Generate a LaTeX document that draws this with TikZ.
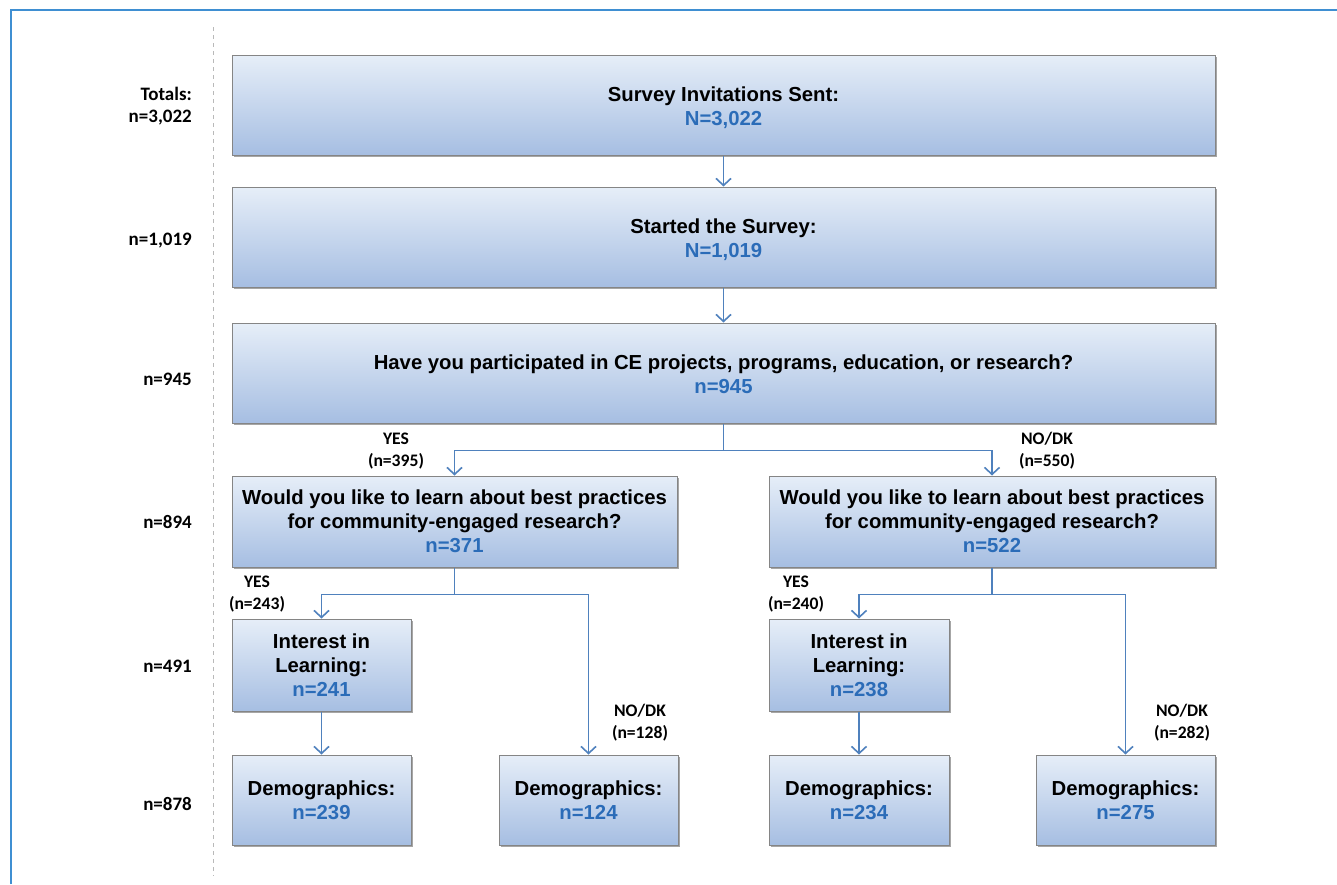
\documentclass[tikz,border=0pt]{standalone}
\usepackage{fontspec}
\setmainfont{Liberation Sans}
\newfontfamily\calfont{Carlito}
\usetikzlibrary{arrows.meta,shadows,calc}

\definecolor{boxtop}{HTML}{E6EEF8}
\definecolor{boxbot}{HTML}{A6BEE2}
\definecolor{boxedge}{HTML}{858585}
\definecolor{numblue}{HTML}{2B6CB8}
\definecolor{linkblue}{HTML}{4F81BD}
\definecolor{framblue}{HTML}{3F8FD2}

\tikzset{
  flowbox/.style={draw=boxedge, line width=1pt, top color=boxtop, bottom color=boxbot,
    align=center, inner sep=0pt, font=\bfseries\fontsize{20.3}{24}\selectfont,
    drop shadow={shadow xshift=1.5pt, shadow yshift=-1.5pt, opacity=0.35, fill=black}},
  sidelabel/.style={anchor=east, align=right, inner sep=0pt,
    font=\calfont\bfseries\fontsize{19}{22}\selectfont},
  branchlabel/.style={align=center, inner sep=0pt,
    font=\calfont\bfseries\fontsize{17.6}{22}\selectfont},
  link/.style={draw=linkblue, line width=1.5pt,
    -{Straight Barb[length=7pt,width=15pt,line width=1.6pt]}},
  linkplain/.style={draw=linkblue, line width=1.5pt},
}
\newcommand{\num}[1]{\textcolor{numblue}{#1}}
% two-line box text with extra room on top, so it sits a little below the box centre
\newcommand{\lowpair}[2]{\raisebox{0pt}[\dimexpr\height+8pt\relax][\depth]{%
  \begin{tabular}{@{}c@{}}#1\\#2\end{tabular}}}

\begin{document}
\begin{tikzpicture}[x=1pt,y=-1pt]
\useasboundingbox (0,0) rectangle (1337,884);
\fill[white] (0,0) rectangle (1337,884);

% outer frame, open on the right and bottom
\draw[framblue, line width=2pt] (11,884) -- (11,10) -- (1337,10);
% divider between totals column and the flow
\draw[gray!55, line width=0.8pt, dash pattern=on 4pt off 4pt] (213,27) -- (213,876);

% totals column
\node[sidelabel] (t0) at (192,106) {Totals:\\n=3,022};
\node[sidelabel] (t1) at (192,241) {n=1,019};
\node[sidelabel] (t2) at (192,379) {n=945};
\node[sidelabel] (t3) at (192,522) {n=894};
\node[sidelabel] (t4) at (192,666) {n=491};
\node[sidelabel] (t5) at (192,804) {n=878};

% flow boxes
\node[flowbox, minimum width=983pt, minimum height=100pt] (b1) at (723.5,105)
  {\lowpair{Survey Invitations Sent:}{\num{N=3,022}}};
\node[flowbox, minimum width=983pt, minimum height=100pt] (b2) at (723.5,237)
  {\lowpair{Started the Survey:}{\num{N=1,019}}};
\node[flowbox, minimum width=983pt, minimum height=100pt] (b3) at (723.5,373)
  {\lowpair{Have you participated in CE projects, programs, education, or research?}{\num{n=945}}};
\node[flowbox, minimum width=445pt, minimum height=91pt] (b4l) at (454.5,521.5)
  {Would you like to learn about best practices\\for community-engaged research?\\\num{n=371}};
\node[flowbox, minimum width=446pt, minimum height=91pt] (b4r) at (992,521.5)
  {Would you like to learn about best practices\\for community-engaged research?\\\num{n=522}};
\node[flowbox, minimum width=179pt, minimum height=92pt] (b5l) at (321.5,665)
  {Interest in\\Learning:\\\num{n=241}};
\node[flowbox, minimum width=180pt, minimum height=92pt] (b5r) at (859,665)
  {Interest in\\Learning:\\\num{n=238}};
\node[flowbox, minimum width=179pt, minimum height=90pt] (d1) at (321.5,800)
  {Demographics:\\\num{n=239}};
\node[flowbox, minimum width=179pt, minimum height=90pt] (d2) at (588.5,800)
  {Demographics:\\\num{n=124}};
\node[flowbox, minimum width=180pt, minimum height=90pt] (d3) at (859,800)
  {Demographics:\\\num{n=234}};
\node[flowbox, minimum width=179pt, minimum height=90pt] (d4) at (1125.5,800)
  {Demographics:\\\num{n=275}};

% straight links
\draw[link] (b1.south) -- (b2.north);
\draw[link] (b2.south) -- (b3.north);
\draw[link] (b5l.south) -- (d1.north);
\draw[link] (b5r.south) -- (d3.north);

% branching links
\coordinate (s3) at ($(b3.south)+(0,27)$);
\draw[linkplain] (b3.south) -- (s3);
\draw[link] (s3) -| (b4l.north);
\draw[link] (s3) -| (b4r.north);

\coordinate (s4l) at ($(b4l.south)+(0,27)$);
\draw[linkplain] (b4l.south) -- (s4l);
\draw[link] (s4l) -| (b5l.north);
\draw[link] (s4l) -| (d2.north);

\coordinate (s4r) at ($(b4r.south)+(0,27)$);
\draw[linkplain] (b4r.south) -- (s4r);
\draw[link] (s4r) -| (b5r.north);
\draw[link] (s4r) -| (d4.north);

% branch labels
\node[branchlabel] (y1) at (396,451) {YES\\(n=395)};
\node[branchlabel] (n1) at (1047,451) {NO/DK\\(n=550)};
\node[branchlabel] (y2) at (257,594) {YES\\(n=243)};
\node[branchlabel] (n2) at (640,723) {NO/DK\\(n=128)};
\node[branchlabel] (y3) at (796,594) {YES\\(n=240)};
\node[branchlabel] (n3) at (1182,723) {NO/DK\\(n=282)};
\end{tikzpicture}
\end{document}
